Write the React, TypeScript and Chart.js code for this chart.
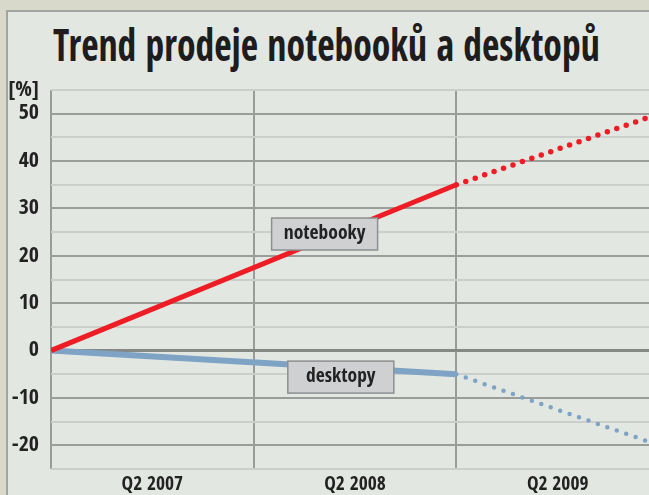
import React, { useEffect, useLayoutEffect, useRef } from "react";
import { Chart, registerables } from "chart.js";

Chart.register(...registerables);

// ---- data ----
const TITLE = "Trend prodeje notebooků a desktopů";
const UNIT_LABEL = "[%]";
const periods = ["Q2 2007", "Q2 2008", "Q2 2009"];
// x positions of data points on the period axis (0 = start of Q2 2007, 1 = start of Q2 2008, ...)
const pointX = [0, 2, 3];
const notebookValues = [0, 35, 50];
const desktopValues = [0, -5, -20];
// index from which the series is a forecast (dotted)
const forecastFrom = 1;
const seriesNames = ["notebooky", "desktopy"];
const seriesLabelX = [1.35, 1.43];
const seriesLabelY = [24.6, -5.6];
const yMin = -25;
const yMax = 55;
const yStep = 5;

const FONT = '"Open Sans Condensed", "Roboto Condensed", "Open Sans", sans-serif';
const RED = "#ee1c25";
const BLUE = "#7ea3c4";

const labelBoxes = {
  id: "labelBoxes",
  afterDatasetsDraw(chart: any) {
    const { ctx, scales } = chart;
    ctx.save();
    seriesNames.forEach((name, i) => {
      const cx = scales.x.getPixelForValue(seriesLabelX[i]);
      const cy = scales.y.getPixelForValue(seriesLabelY[i]);
      const w = 106;
      const h = 32;
      ctx.fillStyle = "#cfd0d2";
      ctx.strokeStyle = "#8e8f8f";
      ctx.lineWidth = 1.5;
      ctx.fillRect(cx - w / 2, cy - h / 2, w, h);
      ctx.strokeRect(cx - w / 2, cy - h / 2, w, h);
      ctx.fillStyle = "#222222";
      ctx.font = `bold 19.5px ${FONT}`;
      ctx.textAlign = "center";
      ctx.textBaseline = "middle";
      ctx.fillText(name, cx, cy);
    });
    ctx.restore();
  },
};

export default function App() {
  const canvasRef = useRef<HTMLCanvasElement | null>(null);
  const titleRef = useRef<HTMLDivElement | null>(null);

  useLayoutEffect(() => {
    const el = titleRef.current;
    if (el) {
      const w = el.scrollWidth;
      if (w > 0) el.style.transform = `scaleX(${547 / w})`;
    }
  }, []);

  useEffect(() => {
    if (!canvasRef.current) return;
    const segDotted = (c: any) => c.p0DataIndex >= forecastFrom;
    const chart = new Chart(canvasRef.current, {
      type: "line",
      data: {
        datasets: [
          {
            label: seriesNames[0],
            data: pointX.map((x, i) => ({ x, y: notebookValues[i] })),
            borderColor: RED,
            borderWidth: 5,
            pointRadius: 0,
            tension: 0,
            segment: {
              borderDash: (c: any) => (segDotted(c) ? [0, 10] : undefined),
              borderCapStyle: (c: any) => (segDotted(c) ? "round" : "butt"),
              borderWidth: (c: any) => (segDotted(c) ? 5.5 : 5),
            },
          },
          {
            label: seriesNames[1],
            data: pointX.map((x, i) => ({ x, y: desktopValues[i] })),
            borderColor: BLUE,
            borderWidth: 6,
            pointRadius: 0,
            tension: 0,
            segment: {
              borderDash: (c: any) => (segDotted(c) ? [0, 10] : undefined),
              borderCapStyle: (c: any) => (segDotted(c) ? "round" : "butt"),
              borderWidth: (c: any) => (segDotted(c) ? 4.5 : 6),
            },
          },
        ],
      },
      options: {
        responsive: false,
        animation: false,
        events: [],
        layout: { padding: { top: 90, left: 0, right: 0, bottom: 0 } },
        plugins: { legend: { display: false }, tooltip: { enabled: false }, title: { display: false } },
        scales: {
          x: {
            type: "linear",
            min: 0,
            max: periods.length,
            afterBuildTicks: (s: any) => {
              const t: any[] = [];
              for (let i = 0; i <= periods.length * 2; i++) t.push({ value: i / 2 });
              s.ticks = t;
            },
            afterFit: (s: any) => {
              s.height = 26;
            },
            border: { display: false },
            grid: {
              drawTicks: false,
              color: (c: any) => (Number.isInteger(c.tick?.value) ? "#9a9c99" : "rgba(0,0,0,0)"),
              lineWidth: 2,
            },
            ticks: {
              autoSkip: false,
              maxRotation: 0,
              padding: 4,
              color: "#222222",
              font: { family: FONT, size: 19.5, weight: "bold" },
              callback: (v: any) => (Number.isInteger(v) ? "" : periods[Math.floor(v)]),
            },
          },
          y: {
            min: yMin,
            max: yMax,
            afterBuildTicks: (s: any) => {
              const t: any[] = [];
              for (let v = yMin; v <= yMax; v += yStep) t.push({ value: v });
              s.ticks = t;
            },
            afterFit: (s: any) => {
              s.width = 51;
            },
            border: { display: false },
            grid: {
              drawTicks: false,
              color: (c: any) => {
                const v = c.tick?.value;
                if (v === 0) return "#858884";
                return v % 10 === 0 ? "#9a9d99" : "#cbcfcb";
              },
              lineWidth: (c: any) => (c.tick?.value === 0 ? 3 : 2),
            },
            ticks: {
              autoSkip: false,
              padding: 12,
              color: "#222222",
              font: { family: FONT, size: 22, weight: "bold" },
              callback: (v: any) => (v === yMax ? UNIT_LABEL : v % 10 === 0 ? String(v) : ""),
            },
          },
        },
      },
      plugins: [labelBoxes],
    } as any);
    return () => chart.destroy();
  }, []);

  return (
    <div
      style={{
        position: "fixed",
        left: 0,
        top: 0,
        width: 649,
        height: 495,
        overflow: "hidden",
        background: "#d8d8cb",
      }}
    >
      <div
        style={{
          position: "absolute",
          left: 6,
          top: 10,
          width: 700,
          height: 600,
          background: "#e3e7e1",
          borderLeft: "2px solid #a2a4a0",
          borderTop: "2px solid #a2a4a0",
        }}
      />
      <div
        ref={titleRef}
        style={{
          position: "absolute",
          left: 53,
          top: 17.6,
          whiteSpace: "nowrap",
          fontFamily: FONT,
          fontWeight: 800,
          fontSize: 44.8,
          lineHeight: "52px",
          color: "#1e1c1c",
          transformOrigin: "0 0",
        }}
      >
        {TITLE}
      </div>
      <canvas
        ref={canvasRef}
        width={663}
        height={495}
        style={{ position: "absolute", left: 0, top: 0, display: "block" }}
      />
    </div>
  );
}
